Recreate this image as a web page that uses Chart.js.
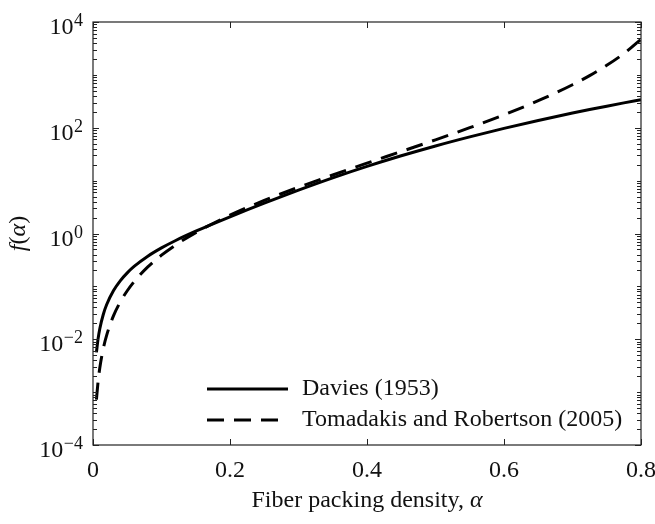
<!DOCTYPE html>
<html>
<head>
<meta charset="utf-8">
<script src="https://cdn.jsdelivr.net/npm/chart.js@4.4.1/dist/chart.umd.min.js"></script>
<style>
  html, body { margin: 0; padding: 0; background: #fff; }
  #wrap { width: 655px; height: 524px; }
</style>
</head>
<body>
<div id="wrap"><canvas id="fChart"></canvas></div>
<script>
// packing density values (alpha) shared by both curves
const alphas = [0.005, 0.0075, 0.01, 0.015, 0.02, 0.03, 0.04, 0.05, 0.06, 0.08, 0.1, 0.12, 0.15,
                0.2, 0.25, 0.3, 0.35, 0.4, 0.45, 0.5, 0.55, 0.6, 0.65, 0.7, 0.725, 0.75, 0.775, 0.8];

const davies = [0.00566, 0.0104, 0.016, 0.0294, 0.0453, 0.0833, 0.1285, 0.180, 0.238, 0.372, 0.534, 0.730, 1.105,
                2.07, 3.75, 6.60, 11.27, 18.56, 29.5, 45.3, 67.3, 97.4, 137.3, 189.4, 220.7, 255.9, 295.5, 339.7];

const tomadakis = [0.00072, 0.00163, 0.00292, 0.00667, 0.0120, 0.0279, 0.0512, 0.0826, 0.1228, 0.233, 0.389, 0.599, 1.039,
                   2.22, 4.22, 7.49, 12.79, 21.4, 35.5, 59.1, 100.3, 175.7, 324.2, 651, 970, 1515, 2536, 4717];

// labelled decades on the log axis and their exponents
const yLabelled = [1e-4, 1e-2, 1, 1e2, 1e4];
const yExponents = ['\u22124', '\u22122', '0', '2', '4'];
const seriesNames = ['Davies (1953)', 'Tomadakis and Robertson (2005)'];

// axis titles as [text, italic] runs
const xTitle = [['Fiber packing density, ', false], ['\u03B1', true]];
const yTitle = [['f', true], ['(', false], ['\u03B1', true], [')', false]];

const SERIF = '"Liberation Serif", "DejaVu Serif", serif';
const toPoints = ys => alphas.map((a, i) => ({ x: a, y: ys[i] }));

function drawRuns(ctx, runs, cx, cy, size) {
  const fonts = runs.map(r => (r[1] ? 'italic ' : '') + size + 'px ' + SERIF);
  const widths = runs.map((r, i) => { ctx.font = fonts[i]; return ctx.measureText(r[0]).width; });
  let x = cx - widths.reduce((s, w) => s + w, 0) / 2;
  runs.forEach((r, i) => {
    ctx.font = fonts[i];
    ctx.fillText(r[0], x, cy);
    x += widths[i];
  });
}

// frame, inward ticks, power-of-ten labels, axis titles and the legend
const framePlugin = {
  id: 'frame',
  afterDatasetsDraw(chart) {
    const { ctx, chartArea: a, scales } = chart;
    const xs = scales.x, ys = scales.y;
    ctx.save();
    ctx.strokeStyle = '#222';
    ctx.lineWidth = 1.2;
    ctx.strokeRect(a.left, a.top, a.right - a.left, a.bottom - a.top);

    ctx.lineWidth = 1;
    ctx.beginPath();
    for (let e = -4; e <= 4; e++) {
      for (let m = 1; m <= 9; m++) {
        const v = m * Math.pow(10, e);
        if (v > 1e4) break;
        const py = Math.round(ys.getPixelForValue(v)) + 0.5;
        const len = (m === 1 && e % 2 === 0) ? 6 : 4;
        ctx.moveTo(a.left, py); ctx.lineTo(a.left + len, py);
        ctx.moveTo(a.right, py); ctx.lineTo(a.right - len, py);
      }
    }
    xs.ticks.forEach(t => {
      const px = Math.round(xs.getPixelForValue(t.value)) + 0.5;
      ctx.moveTo(px, a.bottom); ctx.lineTo(px, a.bottom - 6);
      ctx.moveTo(px, a.top); ctx.lineTo(px, a.top + 6);
    });
    ctx.stroke();

    // y labels: "10" with a raised exponent
    ctx.fillStyle = '#111';
    ctx.textBaseline = 'alphabetic';
    ctx.textAlign = 'right';
    const rightEdge = 83;
    yLabelled.forEach((v, i) => {
      const py = ys.getPixelForValue(v);
      ctx.font = '18px ' + SERIF;
      const expW = ctx.measureText(yExponents[i]).width;
      ctx.fillText(yExponents[i], rightEdge, py + 4);
      ctx.font = '24px ' + SERIF;
      ctx.fillText('10', rightEdge - expW - 0.5, py + 12);
    });

    // axis titles
    ctx.textAlign = 'left';
    drawRuns(ctx, xTitle, (a.left + a.right) / 2, 507, 24);
    ctx.save();
    ctx.translate(25, (a.top + a.bottom) / 2);
    ctx.rotate(-Math.PI / 2);
    drawRuns(ctx, yTitle, 0, 0, 24);
    ctx.restore();

    // legend
    const lx0 = 207, lx1 = 288, tx = 302;
    const rows = [389, 420];
    ctx.font = '24px ' + SERIF;
    ctx.textBaseline = 'middle';
    chart.data.datasets.forEach((ds, i) => {
      ctx.beginPath();
      ctx.lineWidth = 3;
      ctx.strokeStyle = '#000';
      ctx.setLineDash(ds.borderDash || []);
      ctx.moveTo(lx0, rows[i]); ctx.lineTo(lx1, rows[i]);
      ctx.stroke();
      ctx.setLineDash([]);
      ctx.fillText(ds.label, tx, rows[i]);
    });
    ctx.restore();
  }
};

new Chart(document.getElementById('fChart'), {
  type: 'line',
  data: {
    datasets: [
      {
        label: seriesNames[0],
        data: toPoints(davies),
        borderColor: '#000',
        borderWidth: 3,
        pointRadius: 0,
        cubicInterpolationMode: 'monotone'
      },
      {
        label: seriesNames[1],
        data: toPoints(tomadakis),
        borderColor: '#000',
        borderWidth: 3,
        borderDash: [17, 10],
        pointRadius: 0,
        cubicInterpolationMode: 'monotone'
      }
    ]
  },
  options: {
    responsive: true,
    maintainAspectRatio: false,
    animation: false,
    layout: { padding: { top: 22, right: 14, left: 0, bottom: 0 } },
    plugins: {
      legend: { display: false },
      tooltip: { enabled: false }
    },
    scales: {
      x: {
        type: 'linear',
        min: 0,
        max: 0.8,
        grid: { display: false, drawTicks: false },
        border: { display: false },
        ticks: {
          stepSize: 0.2,
          padding: 11,
          color: '#111',
          font: { family: SERIF, size: 24 },
          callback: v => (v === 0 ? '0' : v.toFixed(1))
        },
        // the last tick label may run past the plot edge
        afterFit: s => { s.height = 79; s.paddingLeft = 0; s.paddingRight = 0; }
      },
      y: {
        type: 'logarithmic',
        min: 1e-4,
        max: 1e4,
        grid: { display: false, drawTicks: false },
        border: { display: false },
        afterBuildTicks: s => { s.ticks = yLabelled.map(v => ({ value: v })); },
        ticks: { display: false },
        afterFit: s => { s.width = 93; s.paddingTop = 0; s.paddingBottom = 0; }
      }
    }
  },
  plugins: [framePlugin]
});
</script>
</body>
</html>
